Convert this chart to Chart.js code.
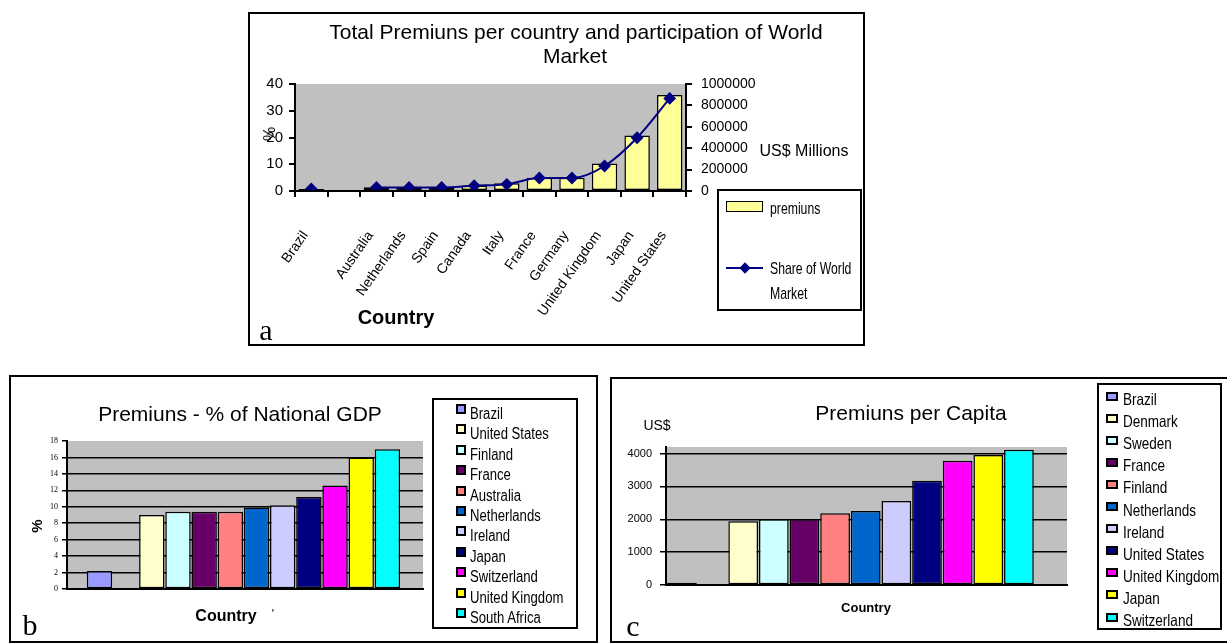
<!DOCTYPE html>
<html lang="en">
<head>
<meta charset="UTF-8" />
<title>Premiuns</title>
<script src="https://cdn.jsdelivr.net/npm/chart.js"></script>
<style>
  body { margin: 0; width: 1227px; height: 644px; position: relative; overflow: hidden; background: #fff; color: #000;
         font-family: 'Liberation Sans', Arial, sans-serif; }
  .panel { position: absolute; border: 2px solid #000; box-sizing: border-box; }
  .wrap { position: absolute; }
  .t { position: absolute; transform: translate(-50%, -50%); white-space: nowrap; line-height: 1; }
  .l { position: absolute; transform: translateY(-50%); white-space: nowrap; line-height: 1; }
  .legend { position: absolute; border: 2px solid #000; box-sizing: border-box; overflow: hidden; background: #fff; }
  .swatch { position: absolute; border: 2px solid #000; box-sizing: border-box; }
  /* no narrow face installed: squeeze the regular one */
  .narrow { transform-origin: left center; transform: translateY(-50%) scaleX(0.82); }
  .narrower { transform-origin: left center; transform: translateY(-50%) scaleX(0.72); }
  .serif { font-family: 'Liberation Serif', 'Times New Roman', serif; }
</style>
</head>
<body>
  <!-- panel a -->
  <div class="panel" style="left:248px;top:12px;width:617px;height:334px"></div>
  <div class="wrap" style="left:249px;top:14px;width:615px;height:330px"><canvas id="chartA"></canvas></div>
  <div class="t" style="left:576px;top:31px;font-size:21px">Total Premiuns per country and participation of World</div>
  <div class="t" style="left:575px;top:55px;font-size:21px">Market</div>
  <div class="t" style="left:270px;top:134px;font-size:16px;transform:translate(-50%,-50%) rotate(-90deg)">%</div>
  <div class="t" style="left:804px;top:151px;font-size:16px">US$ Millions</div>
  <div class="t" style="left:396px;top:317px;font-size:20px;font-weight:bold">Country</div>
  <div class="t serif" style="left:266px;top:330px;font-size:30px">a</div>
  <div class="legend" id="legendA" style="left:717px;top:189px;width:145px;height:122px"></div>

  <!-- panel b -->
  <div class="panel" style="left:9px;top:375px;width:589px;height:268px"></div>
  <div class="wrap" style="left:11px;top:377px;width:420px;height:265px"><canvas id="chartB"></canvas></div>
  <div class="t" style="left:240px;top:413px;font-size:21px">Premiuns - % of National GDP</div>
  <div class="t" style="left:36px;top:526px;font-size:15px;font-weight:bold;transform:translate(-50%,-50%) rotate(-90deg)">%</div>
  <div class="t" style="left:226px;top:616px;font-size:16px;font-weight:bold">Country</div>
  <div class="t" style="left:273px;top:614px;font-size:12px">'</div>
  <div class="t serif" style="left:30px;top:625px;font-size:30px">b</div>
  <div class="legend" id="legendB" style="left:432px;top:398px;width:146px;height:231px"></div>

  <!-- panel c -->
  <div class="panel" style="left:610px;top:377px;width:620px;height:266px"></div>
  <div class="wrap" style="left:612px;top:379px;width:480px;height:263px"><canvas id="chartC"></canvas></div>
  <div class="t" style="left:911px;top:412px;font-size:21px">Premiuns per Capita</div>
  <div class="t" style="left:657px;top:425px;font-size:14px">US$</div>
  <div class="t" style="left:866px;top:607px;font-size:13px;font-weight:bold">Country</div>
  <div class="t serif" style="left:633px;top:626px;font-size:30px">c</div>
  <div class="legend" id="legendC" style="left:1097px;top:383px;width:125px;height:247px"></div>

<script>
  // ---- chart a: total premiums (US$ millions) and share of world market (%)
  const countriesA = ['Brazil', '', 'Australia', 'Netherlands', 'Spain', 'Canada', 'Italy',
    'France', 'Germany', 'United Kingdom', 'Japan', 'United States'];
  const premiumsA = [18000, null, 35000, 35000, 34000, 52000, 72000, 125000, 125000, 258000, 518000, 898000];
  const shareA = [0.75, null, 1.35, 1.35, 1.35, 2.0, 2.5, 4.85, 4.85, 9.35, 19.9, 34.6];
  const shareTicks = [0, 10, 20, 30, 40];
  const premiumTicks = [0, 200000, 400000, 600000, 800000, 1000000];

  // ---- chart b: premiums as % of national GDP
  const countriesB = ['Brazil', 'United States', 'Finland', 'France', 'Australia', 'Netherlands',
    'Ireland', 'Japan', 'Switzerland', 'United Kingdom', 'South Africa'];
  const gdpShareB = [2.2, 9.0, 9.4, 9.4, 9.4, 9.9, 10.2, 11.2, 12.6, 16.0, 17.0];
  const gdpTicks = [0, 2, 4, 6, 8, 10, 12, 14, 16, 18];

  // ---- chart c: premiums per capita (US$)
  const countriesC = ['Brazil', 'Denmark', 'Sweden', 'France', 'Finland', 'Netherlands',
    'Ireland', 'United States', 'United Kingdom', 'Japan', 'Switzerland'];
  const perCapitaC = [70, 1940, 2000, 2000, 2180, 2250, 2560, 3170, 3780, 3960, 4120];
  const capitaTicks = [0, 1000, 2000, 3000, 4000];

  // excel default palette, one colour per series
  const palette = ['#9999ff', '#ffffcc', '#ccffff', '#660066', '#ff8080', '#0066cc',
    '#ccccff', '#000080', '#ff00ff', '#ffff00', '#00ffff'];

  const ARIAL = "'Liberation Sans', Arial, sans-serif";
  const SERIF = "'Liberation Serif', 'Times New Roman', serif";

  Chart.defaults.color = '#000';
  Chart.defaults.animation = false;

  const plotBg = {
    id: 'plotBg',
    beforeDraw(chart) {
      const { ctx, chartArea: a } = chart;
      ctx.save();
      ctx.fillStyle = '#c0c0c0';
      ctx.fillRect(a.left, a.top, a.width, a.height);
      ctx.restore();
    }
  };

  const noPlugins = { legend: { display: false }, tooltip: { enabled: false } };
  const black = { color: '#000', width: 2 };

  // bars after the first one sit one slot further right (empty slot after Brazil)
  const slot = i => (i === 0 ? 0 : i + 1);

  new Chart(document.getElementById('chartA'), {
    data: {
      labels: countriesA,
      datasets: [{
        type: 'line',
        label: 'Share of World Market',
        data: shareA,
        yAxisID: 'y',
        borderColor: '#000080',
        backgroundColor: '#000080',
        borderWidth: 2,
        pointStyle: 'rectRot',
        pointRadius: 5,
        cubicInterpolationMode: 'monotone',
        spanGaps: false,
        order: 0
      }, {
        type: 'bar',
        label: 'premiuns',
        data: premiumsA,
        yAxisID: 'y1',
        backgroundColor: '#ffff99',
        borderColor: '#000',
        borderWidth: 1.5,
        borderSkipped: false,
        categoryPercentage: 1,
        barPercentage: 0.78,
        order: 1
      }]
    },
    options: {
      responsive: true,
      maintainAspectRatio: false,
      layout: { padding: { top: 70, left: 0, right: 0, bottom: 0 } },
      plugins: noPlugins,
      scales: {
        x: {
          type: 'category',
          offset: true,
          grid: { offset: true, drawOnChartArea: false, tickLength: 6, color: '#000', lineWidth: 2 },
          border: { ...black, z: 1 },
          ticks: { autoSkip: false, minRotation: 55, maxRotation: 55, padding: 31, labelOffset: -6,
                   font: { family: ARIAL, size: 14 } },
          afterFit: s => { s.height = 153; }
        },
        y: {
          position: 'left',
          min: 0, max: 40,
          afterBuildTicks: s => { s.ticks = shareTicks.map(v => ({ value: v })); },
          grid: { drawOnChartArea: false, tickLength: 6, color: '#000', lineWidth: 2 },
          border: black,
          ticks: { autoSkip: false, padding: 6, font: { family: ARIAL, size: 15 } },
          afterFit: s => { s.width = 46; }
        },
        y1: {
          position: 'right',
          min: 0, max: 1000000,
          afterBuildTicks: s => { s.ticks = premiumTicks.map(v => ({ value: v })); },
          grid: { drawOnChartArea: false, tickLength: 6, color: '#000', lineWidth: 2 },
          border: black,
          ticks: { autoSkip: false, padding: 9, font: { family: ARIAL, size: 14 }, callback: v => String(v) },
          afterFit: s => { s.width = 178; }
        }
      }
    },
    plugins: [plotBg]
  });

  function barPanel(id, values, colors, yTicks, x, y, pad, yFont) {
    return new Chart(document.getElementById(id), {
      type: 'bar',
      data: {
        datasets: [{
          data: values.map((v, i) => ({ x: slot(i), y: v })),
          backgroundColor: colors,
          borderColor: '#000',
          borderWidth: 1.5,
          borderSkipped: false,
          categoryPercentage: 1,
          barPercentage: 0.97
        }]
      },
      options: {
        responsive: true,
        maintainAspectRatio: false,
        layout: { padding: pad },
        plugins: noPlugins,
        scales: {
          x: {
            type: 'linear',
            offset: false,
            min: x.min, max: x.max,
            ticks: { display: false, stepSize: 1, includeBounds: false },
            grid: { display: false },
            border: { ...black, z: 1 },
            afterFit: s => { s.height = x.h; }
          },
          y: {
            min: 0, max: y.max,
            afterBuildTicks: s => { s.ticks = yTicks.map(v => ({ value: v })); },
            grid: {
              color: c => (c.tick && c.tick.value > 0 && c.tick.value < y.max ? '#000' : 'rgba(0,0,0,0)'),
              tickColor: '#000',
              lineWidth: 1.5,
              tickLength: y.tl
            },
            border: black,
            ticks: { autoSkip: false, padding: y.pad, font: yFont, callback: v => String(v) },
            afterFit: s => { s.width = y.w; }
          }
        }
      },
      plugins: [plotBg]
    });
  }

  barPanel('chartB', gdpShareB, palette, gdpTicks,
    { min: -1.24, max: 12.36, h: 53 },
    { max: 18, w: 56, tl: 5, pad: 4 },
    { top: 64, right: 8, left: 0, bottom: 0 },
    { family: SERIF, size: 8 });

  barPanel('chartC', perCapitaC, palette, capitaTicks,
    { min: -0.52, max: 12.57, h: 57 },
    { max: 4200, w: 54, tl: 6, pad: 8 },
    { top: 68, right: 25, left: 0, bottom: 0 },
    { family: ARIAL, size: 11 });

  // ---- legends
  function legendEntries(boxId, names, colors, o) {
    const box = document.getElementById(boxId);
    names.forEach((name, i) => {
      const cy = o.y0 + i * o.step;
      const m = document.createElement('div');
      m.className = 'swatch';
      m.style.cssText = `left:${o.mx}px;top:${cy - o.mUp - o.mh / 2}px;width:${o.mw}px;height:${o.mh}px;background:${colors[i]}`;
      box.appendChild(m);
      const t = document.createElement('div');
      t.className = 'l narrow';
      t.style.cssText = `left:${o.tx}px;top:${cy}px;font-size:${o.fs}px`;
      t.textContent = name;
      box.appendChild(t);
    });
  }
  legendEntries('legendB', countriesB, palette, { y0: 14, step: 20.4, mx: 22, mw: 10, mh: 10, mUp: 5, tx: 36, fs: 16 });
  legendEntries('legendC', countriesC, palette, { y0: 14, step: 22.1, mx: 7, mw: 12, mh: 9, mUp: 3, tx: 24, fs: 16.5 });

  // legend a: bar swatch and line-with-diamond
  const la = document.getElementById('legendA');
  la.innerHTML =
    '<div class="swatch" style="left:7px;top:10px;width:37px;height:11px;background:#ffff99;border-width:1.5px"></div>' +
    '<div class="l narrower" style="left:51px;top:17px;font-size:17px">premiuns</div>' +
    '<div style="position:absolute;left:7px;top:76px;width:37px;height:2px;background:#000080"></div>' +
    '<div style="position:absolute;left:22px;top:73px;width:8px;height:8px;background:#000080;transform:rotate(45deg)"></div>' +
    '<div class="l narrower" style="left:51px;top:77px;font-size:17px">Share of World</div>' +
    '<div class="l narrower" style="left:51px;top:102px;font-size:17px">Market</div>';
</script>
</body>
</html>
